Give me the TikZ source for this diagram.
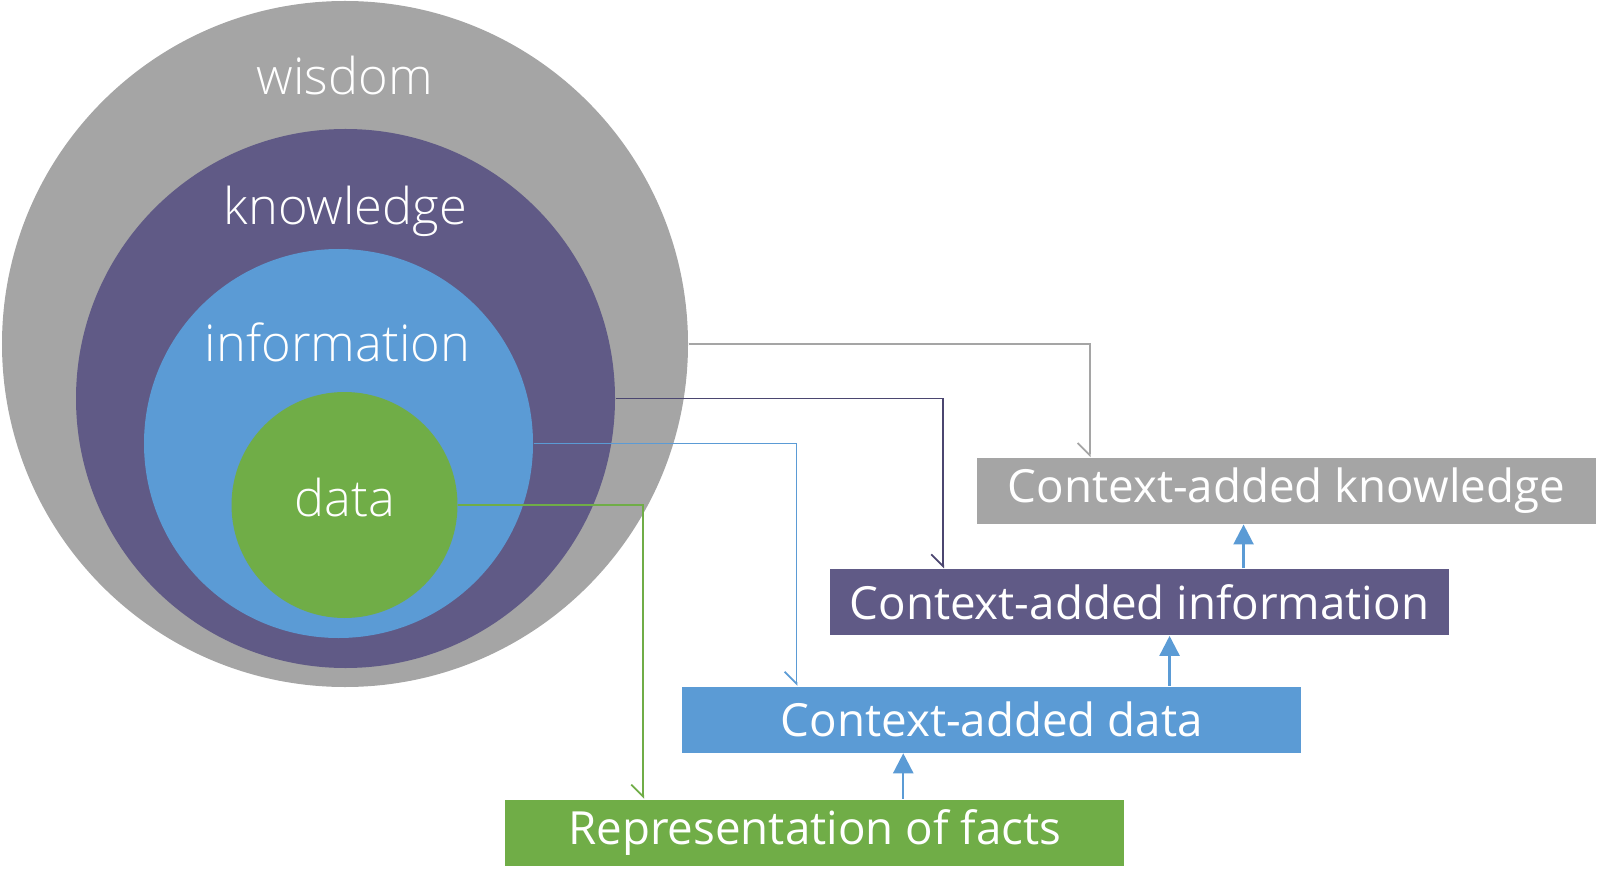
\documentclass[tikz,border=0pt]{standalone}
\usepackage{fontspec}
\setmainfont{Open Sans}
\newfontfamily\lightfont{Open Sans Light}
\usetikzlibrary{arrows.meta,positioning}
\definecolor{Wisdom}{HTML}{A5A5A5}
\definecolor{Knowledge}{HTML}{605A86}
\definecolor{Info}{HTML}{5B9BD5}
\definecolor{Data}{HTML}{70AD47}
\definecolor{KnowLine}{HTML}{4B4670}

\begin{document}
\begin{tikzpicture}[
    ring/.style={circle,inner sep=0pt},
    lbl/.style={text=white,font=\lightfont\fontsize{14.4}{17}\selectfont,anchor=base,inner sep=0pt},
    box/.style={minimum width=6.19cm,minimum height=0.66cm,inner sep=0pt,text=white,font=\fontsize{13}{16}\selectfont},
    link/.style={line width=0.5pt,-{Straight Barb[right,length=1.2mm,width=2.4mm]}},
    uparrow/.style={line width=0.7pt,color=Info,-{Triangle[length=2mm,width=2mm]}}
  ]
    \useasboundingbox (0,0) rectangle (16,-8.84);
    % nested circles
    \node[ring,fill=Wisdom,minimum size=6.86cm] (wisdom) at (3.45,-3.44) {};
    \node[ring,fill=Knowledge,minimum size=5.39cm] (knowledge) at (3.455,-3.985) {};
    \node[ring,fill=Info,minimum size=3.89cm] (information) at (3.385,-4.435) {};
    \node[ring,fill=Data,minimum size=2.26cm] (data) at (3.445,-5.05) {};
    \node[lbl] (wisdomlbl) at ([yshift=-0.94cm]wisdom.north) {wisdom};
    \node[lbl] (knowledgelbl) at ([yshift=-0.96cm]knowledge.north) {knowledge};
    \node[lbl] (informationlbl) at ([yshift=-1.135cm,xshift=-0.01cm]information.north) {information};
    \node[lbl] (datalbl) at ([yshift=-1.25cm]data.north) {data};
    % staircase of boxes
    \node[box,fill=Data] (rof) at (8.1475,-8.325) {Representation of facts};
    \node[box,fill=Info,anchor=south west,above right=0.455cm and 1.77cm of rof.north west] (ckd) {Context-added data};
    \node[box,fill=Knowledge,anchor=south west,above right=0.50cm and 1.476cm of ckd.north west] (cki) {Context-added information};
    \node[box,fill=Wisdom,anchor=south west,above right=0.44cm and 1.47cm of cki.north west] (ckn) {Context-added knowledge};
    % circle to box links
    \draw[link,Wisdom] (wisdom.east) -| ([xshift=1.135cm]ckn.north west);
    \draw[link,KnowLine] (knowledge.east) -| ([xshift=1.14cm]cki.north west);
    \draw[link,Info] (information.east) -| ([xshift=1.15cm]ckd.north west);
    \draw[link,Data] (data.east) -| ([xshift=1.387cm]rof.north west);
    % upward arrows
    \draw[uparrow] ([xshift=3.987cm]rof.north west) -- ([xshift=3.987cm]rof.north west |- ckd.south);
    \draw[uparrow] ([xshift=4.88cm]ckd.north west) -- ([xshift=4.88cm]ckd.north west |- cki.south);
    \draw[uparrow] ([xshift=4.144cm]cki.north west) -- ([xshift=4.144cm]cki.north west |- ckn.south);
  \end{tikzpicture}
\end{document}
